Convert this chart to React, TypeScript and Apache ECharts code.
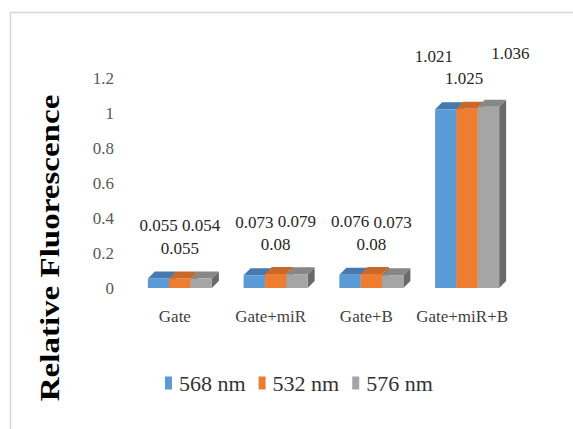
import React, { useEffect, useRef } from "react";
import * as echarts from "echarts";

const categories = ["Gate", "Gate+miR", "Gate+B", "Gate+miR+B"];
const seriesNames = ["568 nm", "532 nm", "576 nm"];
const values568 = [0.055, 0.073, 0.076, 1.021];
const values532 = [0.055, 0.08, 0.08, 1.025];
const values576 = [0.054, 0.079, 0.073, 1.036];
const yTicks = [0, 0.2, 0.4, 0.6, 0.8, 1, 1.2];

// styles
const FONT = "Liberation Serif";
const FACES = [
  { front: "#5b9bd5", top: "#4679b0", side: "#3c6a9a" },
  { front: "#ed7d31", top: "#c8682a", side: "#a95722" },
  { front: "#a5a5a5", top: "#878787", side: "#6a6a6a" },
];
const BAR_FRAC = 0.223;
const DEPTH_X = 7;
const DEPTH_Y = 7;
const LABEL_RISE = [53, 30, 53];
const LABEL_SHIFT: Record<string, number[]> = {
  "Gate+miR+B": [-12, -3, 22],
};

export default function App() {
  const ref = useRef<HTMLDivElement>(null);

  useEffect(() => {
    if (!ref.current) return;
    const chart = echarts.init(ref.current, undefined, { renderer: "svg" });
    const allValues = [values568, values532, values576];

    const makeSeries = (si: number) => ({
      type: "custom",
      name: seriesNames[si],
      coordinateSystem: "cartesian2d",
      itemStyle: { color: FACES[si].front },
      data: allValues[si].map((v, i) => [i, v]),
      renderItem: (params: any, api: any) => {
        const ci = api.value(0);
        const v = api.value(1);
        const base = api.coord([ci, 0]);
        const top = api.coord([ci, v]);
        const band = api.size([1, 0])[0];
        const bw = band * BAR_FRAC;
        const x0 = base[0] + (si - 1) * bw - bw / 2;
        const x1 = x0 + bw;
        const yb = base[1];
        const yt = top[1];
        const shift = (LABEL_SHIFT[categories[ci]] || [0, 0, 0])[si];
        return {
          type: "group",
          children: [
            {
              type: "polygon",
              shape: {
                points: [
                  [x1, yb],
                  [x1 + DEPTH_X, yb - DEPTH_Y],
                  [x1 + DEPTH_X, yt - DEPTH_Y],
                  [x1, yt],
                ],
              },
              style: { fill: FACES[si].side },
            },
            {
              type: "polygon",
              shape: {
                points: [
                  [x0, yt],
                  [x0 + DEPTH_X, yt - DEPTH_Y],
                  [x1 + DEPTH_X, yt - DEPTH_Y],
                  [x1, yt],
                ],
              },
              style: { fill: FACES[si].top },
            },
            {
              type: "rect",
              shape: { x: x0, y: yt, width: bw, height: yb - yt },
              style: { fill: FACES[si].front },
            },
            {
              type: "text",
              x: (x0 + x1) / 2 + shift,
              y: yt - LABEL_RISE[si],
              style: {
                text: String(v),
                fontSize: 17,
                fontFamily: FONT,
                fill: "#262626",
                align: "center",
                verticalAlign: "middle",
              },
            },
          ],
        };
      },
    });

    chart.setOption({
      animation: false,
      backgroundColor: "#ffffff",
      grid: { left: 132, right: 58, top: 78, bottom: 141 },
      graphic: [
        {
          type: "rect",
          shape: { x: 10.5, y: 12.5, width: 700, height: 600 },
          style: { fill: "none", stroke: "#d6d6d6", lineWidth: 1.5 },
          silent: true,
        },
        {
          type: "text",
          x: 50,
          y: 248,
          rotation: Math.PI / 2,
          scaleX: 1.18,
          style: {
            text: "Relative Fluorescence",
            fontSize: 28,
            fontWeight: "bold",
            fontFamily: FONT,
            fill: "#000000",
            align: "center",
            verticalAlign: "middle",
          },
        },
      ],
      legend: {
        data: seriesNames.map((n, i) => ({ name: n, itemStyle: { color: FACES[i].front } })),
        left: 165,
        top: 372,
        padding: 0,
        itemWidth: 7,
        itemHeight: 13,
        itemGap: 13,
        icon: "rect",
        textStyle: { fontSize: 22, fontFamily: FONT, color: "#333333", padding: [0, 0, 0, 2] },
      },
      xAxis: {
        type: "category",
        data: categories,
        axisLine: { show: false },
        axisTick: { show: false },
        splitLine: { show: false },
        axisLabel: {
          interval: 0,
          fontSize: 17,
          fontFamily: FONT,
          color: "#404040",
          margin: 20,
          padding: [0, 10, 0, 0],
        },
      },
      yAxis: {
        type: "value",
        min: yTicks[0],
        max: yTicks[yTicks.length - 1],
        interval: yTicks[1] - yTicks[0],
        axisLine: { show: false },
        axisTick: { show: false },
        splitLine: { show: false },
        axisLabel: {
          fontSize: 17,
          fontFamily: FONT,
          color: "#595959",
          margin: 18,
          formatter: (v: number) => String(Math.round(v * 10) / 10),
        },
      },
      series: [0, 1, 2].map(makeSeries),
    });

    return () => chart.dispose();
  }, []);

  return (
    <div
      ref={ref}
      style={{ position: "absolute", left: 0, top: 0, width: 573, height: 429, background: "#fff" }}
    />
  );
}
